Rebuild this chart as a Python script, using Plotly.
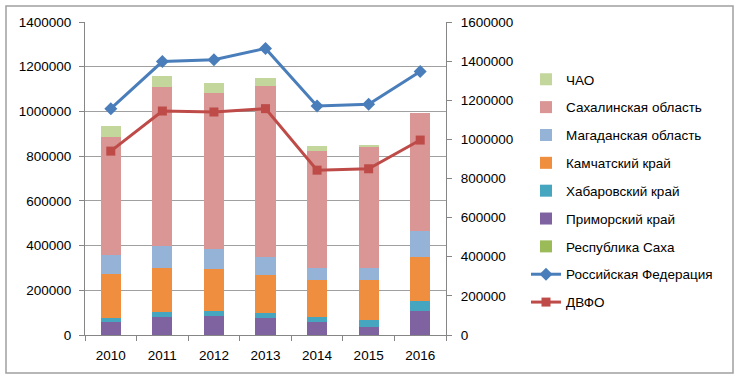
import plotly.graph_objects as go

years = ["2010", "2011", "2012", "2013", "2014", "2015", "2016"]

sakha = [2000, 2000, 2000, 2000, 2000, 2000, 2000]
primorsky = [55000, 79000, 82000, 75000, 55000, 33000, 104500]
khabarovsk = [20000, 23000, 22500, 22000, 22600, 34000, 45000]
kamchatka = [197000, 195000, 190000, 171000, 166000, 176600, 197500]
magadan = [84000, 99000, 86000, 81000, 55000, 55000, 114000]
sakhalin = [526000, 711000, 700000, 761000, 523000, 538700, 529000]
chao = [53000, 49000, 45000, 39000, 20000, 10000, 0]

rf = [1157000, 1398000, 1407000, 1465000, 1171000, 1179000, 1347000]
dvfo = [940000, 1145000, 1140000, 1157000, 842600, 849700, 996500]

bar_series = [
    ("Республика Саха", sakha, "#9BBB59", 7),
    ("Приморский край", primorsky, "#7F63A1", 6),
    ("Хабаровский край", khabarovsk, "#46A5BF", 5),
    ("Камчатский край", kamchatka, "#EE8E3E", 4),
    ("Магаданская область", magadan, "#95B3D7", 3),
    ("Сахалинская область", sakhalin, "#D99694", 2),
    ("ЧАО", chao, "#C3D69B", 1),
]

fig = go.Figure()
for name, vals, color, rank in bar_series:
    fig.add_trace(go.Bar(x=years, y=vals, name=name, marker=dict(color=color, line=dict(width=0)),
                         legendrank=rank, legendgroup=name))

fig.add_trace(go.Scatter(x=years, y=rf, name="Российская Федерация", yaxis="y2", mode="lines+markers",
                         line=dict(color="#4A7EBB", width=3),
                         marker=dict(symbol="diamond", size=10, color="#4A7EBB"),
                         legendrank=8, legendgroup="rf"))
fig.add_trace(go.Scatter(x=years, y=dvfo, name="ДВФО", yaxis="y2", mode="lines+markers",
                         line=dict(color="#BE4B48", width=3),
                         marker=dict(symbol="square", size=9, color="#BE4B48"),
                         legendrank=9, legendgroup="dvfo"))

L, R, T, B = 85, 446, 22, 335
W, H = 736, 376
pw, ph = R - L, B - T

def px(x):
    return (x - L) / pw

def py(y):
    return (B - y) / ph

fig.update_layout(
    width=W, height=H,
    margin=dict(l=L, r=W - R, t=T, b=H - B, pad=0),
    paper_bgcolor="white", plot_bgcolor="white",
    barmode="stack", bargap=0.61,
    font=dict(family="Liberation Sans", size=13.5, color="#000000"),
    showlegend=True,
    legend=dict(x=px(526), y=py(64), xanchor="left", yanchor="top",
                traceorder="grouped", tracegroupgap=7.3, itemwidth=30,
                font=dict(size=13.5), bgcolor="rgba(0,0,0,0)"),
    xaxis=dict(type="category", showline=True, linecolor="#868686", linewidth=1,
               ticks="outside", tickson="boundaries", ticklen=5, tickcolor="#868686",
               ticklabelstandoff=8, showgrid=False, zeroline=False),
    yaxis=dict(range=[0, 1400000], dtick=200000, tickformat="d",
               showline=True, linecolor="#868686", linewidth=1,
               ticks="outside", ticklen=5, tickcolor="#868686", ticklabelstandoff=5,
               showgrid=True, gridcolor="#A0A0A0", gridwidth=1, zeroline=False),
    yaxis2=dict(range=[0, 1600000], dtick=200000, tickformat="d", overlaying="y", side="right",
                showline=True, linecolor="#868686", linewidth=1,
                ticks="outside", ticklen=5, tickcolor="#868686", ticklabelstandoff=6,
                showgrid=False, zeroline=False),
    shapes=[dict(type="rect", xref="paper", yref="paper",
                 x0=px(6), x1=px(733), y0=py(373), y1=py(6),
                 line=dict(color="#A0A0A0", width=1.5), fillcolor="rgba(0,0,0,0)", layer="below")],
)

fig.write_html("out.html", config={"displayModeBar": False},
               post_script="document.body.style.margin='0';")
